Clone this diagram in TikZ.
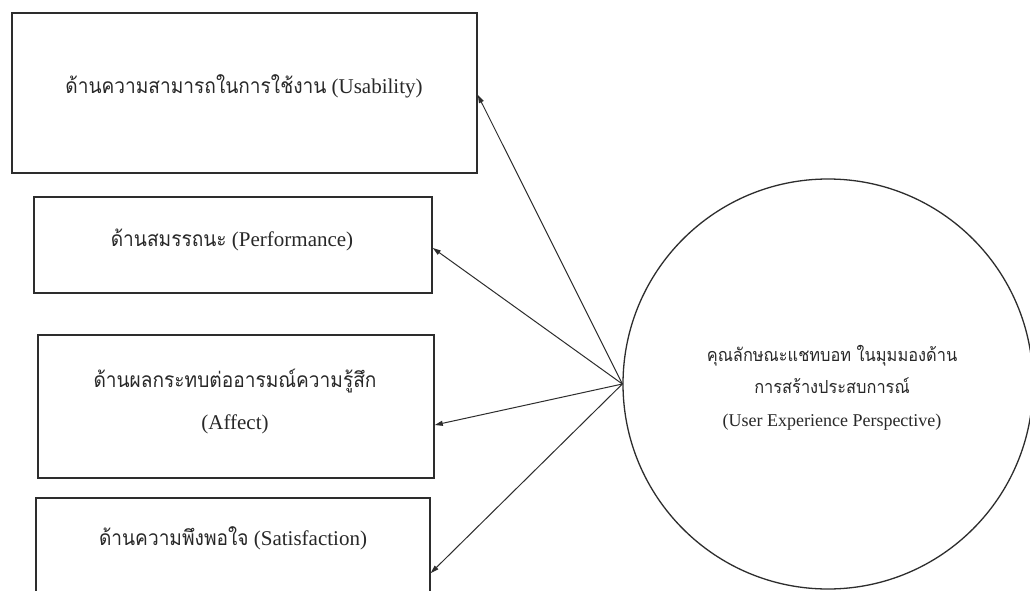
\documentclass[tikz,border=0pt]{standalone}
\usepackage{fontspec}
\setmainfont{Liberation Serif}
\newfontfamily\thai[Script=Thai,FakeStretch=0.91]{Loma}
\usetikzlibrary{arrows.meta}

\definecolor{ink}{RGB}{40,40,40}
\definecolor{edge}{RGB}{45,45,45}

\tikzset{
  box/.style={draw=edge, line width=1.6pt, rectangle, inner sep=0pt},
  bigcircle/.style={draw=edge, line width=1.3pt, circle, inner sep=0pt, minimum size=410pt},
  boxtext/.style={text=ink, inner sep=0pt, align=center, font=\fontsize{21}{42}\selectfont},
  circtext/.style={text=ink, inner sep=0pt, align=center, font=\fontsize{18}{32.5}\selectfont},
  link/.style={draw=edge, line width=1pt, -{Triangle[length=8pt,width=5pt]}}
}

\begin{document}
\begin{tikzpicture}[x=1pt,y=-1pt]
  \clip (0,0) rectangle (1030,591);
  \fill[white] (0,0) rectangle (1030,591);

  % four aspects on the left
  \node[box, minimum width=465pt, minimum height=160pt] (b1) at (244.5,93) {};
  \node[box, minimum width=398pt, minimum height=96pt]  (b2) at (233,245) {};
  \node[box, minimum width=396pt, minimum height=143pt] (b3) at (236,406.5) {};
  \node[box, minimum width=394pt, minimum height=142pt] (b4) at (233,569) {};

  \node[boxtext] (t1) at (244,86)  {{\thai ด้านความสามารถในการใช้งาน} (Usability)};
  \node[boxtext] (t2) at (232,240) {{\thai ด้านสมรรถนะ} (Performance)};
  \node[boxtext] (t3) at (235,402) {{\thai ด้านผลกระทบต่ออารมณ์ความรู้สึก}\\(Affect)};
  \node[boxtext] (t4) at (233,538) {{\thai ด้านความพึงพอใจ} (Satisfaction)};

  % chatbot characteristics
  \node[bigcircle] (c) at (828,384) {};
  \node[circtext] (ct) at (832,387.5) {{\thai คุณลักษณะแชทบอท ในมุมมองด้าน}\\{\thai การสร้างประสบการณ์}\\(User Experience Perspective)};

  % connectors
  \draw[link] (c.west) -- ([yshift=-2pt]b1.east);
  \draw[link] (c.west) -- ([yshift=-3pt]b2.east);
  \draw[link] (c.west) -- ([yshift=-18.5pt]b3.east);
  \draw[link] (c.west) -- ([yshift=-4pt]b4.east);
\end{tikzpicture}
\end{document}
